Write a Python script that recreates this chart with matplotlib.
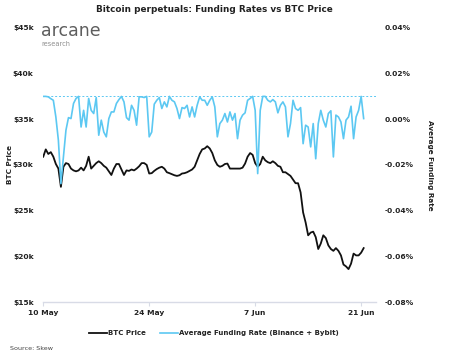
import numpy as np
import pandas as pd
import matplotlib
matplotlib.use("Agg")
import matplotlib.pyplot as plt
import matplotlib.dates as mdates
from matplotlib.ticker import FuncFormatter

# 8-hourly samples starting 10 May 2022 00:00
start = "2022-05-10 00:00"

btc_price = [
    30.9, 31.7, 31.2, 31.4, 30.9, 30.1, 29.6, 27.6, 29.8, 30.2,
    30.1, 29.6, 29.4, 29.3, 29.4, 29.7, 29.4, 29.9, 30.9, 29.6,
    29.9, 30.2, 30.4, 30.2, 29.9, 29.7, 29.3, 28.9, 29.6, 30.1,
    30.1, 29.5, 28.9, 29.4, 29.35, 29.5, 29.4, 29.6, 29.85, 30.2,
    30.2, 30.0, 29.06, 29.1, 29.35, 29.55, 29.7, 29.8, 29.6, 29.2,
    29.1, 28.98, 28.87, 28.8, 28.87, 29.06, 29.1, 29.2, 29.35, 29.5,
    29.8, 30.5, 31.2, 31.7, 31.8, 32.05, 31.8, 31.3, 30.5, 30.0,
    29.8, 29.9, 30.1, 30.15, 29.6, 29.6, 29.6, 29.6, 29.6, 29.7,
    30.15, 30.9, 31.3, 31.1, 30.2, 29.8, 30.1, 30.9, 30.5, 30.3,
    30.2, 30.4, 30.2, 29.9, 29.8, 29.2, 29.2, 29.0, 28.8, 28.4,
    28.0, 28.0, 27.0, 24.8, 23.7, 22.3, 22.6, 22.7, 22.1, 20.8,
    21.4, 22.3, 22.0, 21.2, 20.8, 20.6, 20.9, 20.6, 20.1, 19.1,
    18.9, 18.6, 19.2, 20.3, 20.1, 20.1, 20.4, 20.9,
]  # thousands of USD

funding_rate = [
    0.0100, 0.0100, 0.0098, 0.0090, 0.0083, 0.0010, -0.0092, -0.0282, -0.0165, -0.0048,
    0.0007, 0.0003, 0.0069, 0.0091, 0.0100, -0.0034, 0.0039, -0.0034, 0.0091, 0.0039,
    0.0025, 0.0095, -0.0070, -0.0004, -0.0056, -0.0077, 0.0003, 0.0032, 0.0032, 0.0069,
    0.0086, 0.0100, 0.0076, 0.0007, -0.0004, 0.0061, 0.0039, -0.0026, 0.0098, 0.0098,
    0.0095, 0.0100, -0.0077, -0.0056, 0.0066, 0.0083, 0.0095, 0.0047, 0.0076, 0.0054,
    0.0100, 0.0083, 0.0076, 0.0047, 0.0003, 0.0051, 0.0047, 0.0061, 0.0010, 0.0054,
    0.0010, 0.0061, 0.0098, 0.0083, 0.0083, 0.0061, 0.0083, 0.0098, 0.0054, -0.0077,
    -0.0019, -0.0004, 0.0025, -0.0012, 0.0032, -0.0004, 0.0025, -0.0085, -0.0004, 0.0018,
    0.0028, 0.0083, 0.0091, 0.0100, 0.0039, -0.0238, 0.0039, 0.0100, 0.0100, 0.0083,
    0.0076, 0.0086, 0.0076, 0.0028, 0.0061, 0.0076, 0.0054, -0.0077, -0.0019, 0.0083,
    0.0047, 0.0039, 0.0051, -0.0107, -0.0026, -0.0034, -0.0121, -0.0019, -0.0173, -0.0019,
    0.0039, -0.0004, -0.0034, 0.0025, 0.0037, -0.0165, 0.0018, 0.0010, -0.0012, -0.0085,
    -0.0004, 0.0010, 0.0057, -0.0085, 0.0010, 0.0039, 0.0100, 0.0003,
]  # percent

dates = pd.date_range(start, periods=len(btc_price), freq="8h")
tick_dates = pd.to_datetime(["2022-05-10", "2022-05-24", "2022-06-07", "2022-06-21"])
tick_labels = ["10 May", "24 May", "7 Jun", "21 Jun"]

black = "#111111"
cyan = "#5cc8f2"
txt = "#222222"

fig = plt.figure(figsize=(4.6, 3.57), dpi=100)
ax = fig.add_axes([0.094, 0.154, 0.724, 0.768])
ax2 = ax.twinx()

ax.plot(dates, btc_price, color=black, lw=1.3, label="BTC Price")
ax2.plot(dates, funding_rate, color=cyan, lw=1.2, label="Average Funding Rate (Binance + Bybit)")
ax2.axhline(0.01, color=cyan, lw=0.7, ls=(0, (2, 2)))

ax.set_ylim(15, 45)
ax.set_yticks([15, 20, 25, 30, 35, 40, 45])
ax.yaxis.set_major_formatter(FuncFormatter(lambda v, p: f"${v:.0f}k"))
ax2.set_ylim(-0.08, 0.04)
ax2.set_yticks([-0.08, -0.06, -0.04, -0.02, 0.0, 0.02, 0.04])
ax2.yaxis.set_major_formatter(FuncFormatter(lambda v, p: f"{v:.2f}%"))

ax.set_xlim(pd.Timestamp("2022-05-10"), pd.Timestamp("2022-06-23"))
ax.set_xticks(tick_dates)
ax.set_xticklabels(tick_labels)

for a in (ax, ax2):
    for s in a.spines.values():
        s.set_visible(False)
ax.spines["bottom"].set_visible(True)
ax.spines["bottom"].set_color("#d8dbe6")
ax.spines["bottom"].set_linewidth(1.0)

ax.tick_params(axis="x", length=3, color="#d8dbe6", labelsize=5.4, pad=3)
ax.tick_params(axis="y", length=0, labelsize=5.4, pad=7)
ax2.tick_params(axis="y", length=0, labelsize=5.4, pad=6)
for lab in ax.get_xticklabels() + ax.get_yticklabels() + ax2.get_yticklabels():
    lab.set_fontweight("bold")
    lab.set_color(txt)

ax.set_ylabel("BTC Price", fontsize=5.2, fontweight="bold", color=txt)
ax.yaxis.set_label_coords(-0.092, 0.5)
ax2.set_ylabel("Average Funding Rate", fontsize=5.2, fontweight="bold", color=txt, rotation=270, va="center")
ax2.yaxis.set_label_coords(1.16, 0.5)

fig.text(0.465, 0.972, "Bitcoin perpetuals: Funding Rates vs BTC Price",
         ha="center", va="center", fontsize=6.4, fontweight="bold", color=txt)

# logo
fig.text(0.089, 0.913, "arcane", fontsize=12.5, color="#5e5e5e", va="center")
fig.text(0.091, 0.878, "research", fontsize=4.8, color="#8f8f8f", va="center")

h1, l1 = ax.get_legend_handles_labels()
h2, l2 = ax2.get_legend_handles_labels()
fig.legend(h1 + h2, l1 + l2, loc="center", bbox_to_anchor=(0.465, 0.067), ncol=2,
           frameon=False, fontsize=5, handlelength=2.6, handletextpad=0.15,
           columnspacing=2.0)
for t in fig.legends[0].get_texts():
    t.set_fontweight("bold")
    t.set_color(txt)

fig.text(0.022, 0.025, "Source: Skew", fontsize=4.6, color="#444444", va="center")

fig.savefig("out.png", dpi=100, facecolor="white")
